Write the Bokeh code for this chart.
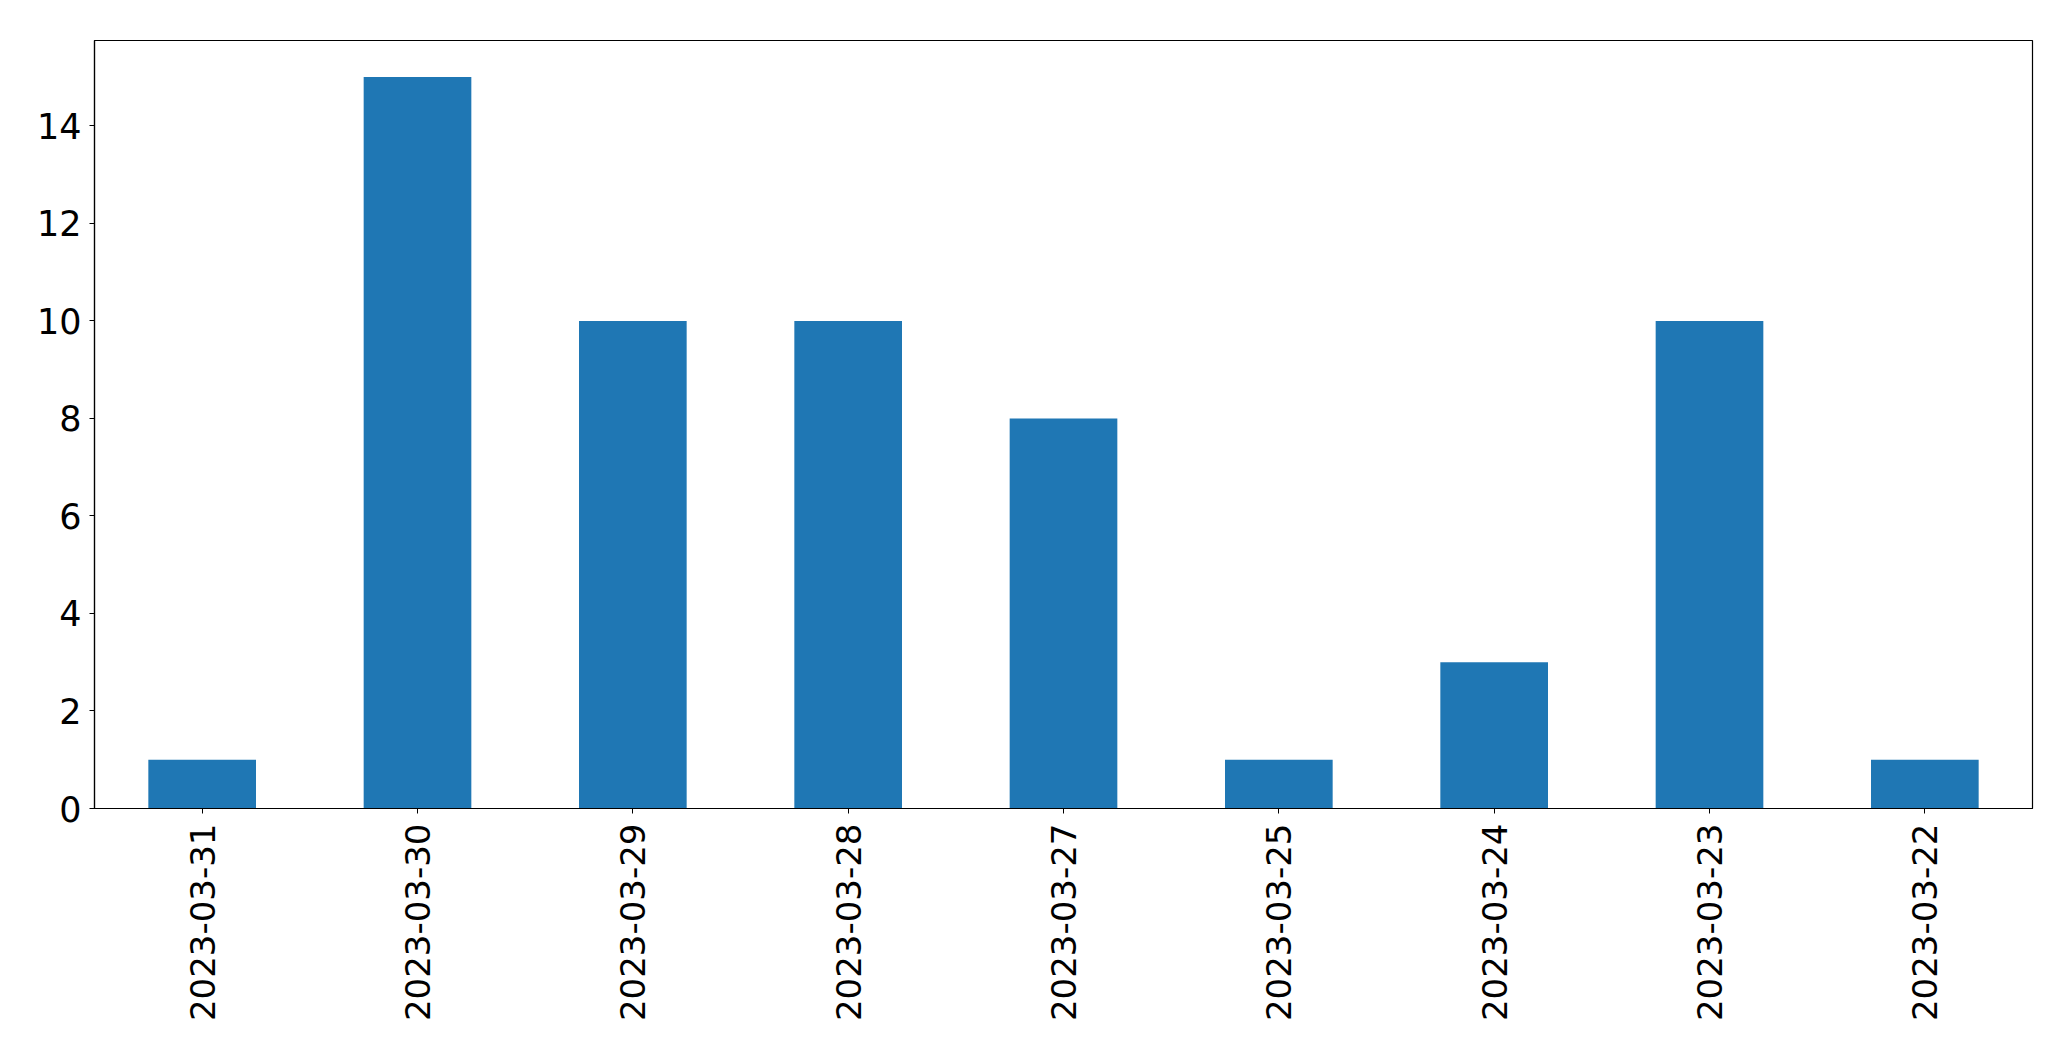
from bokeh.plotting import figure
from bokeh.models import FactorRange, Range1d, SingleIntervalTicker, ColumnDataSource
from bokeh.embed import file_html
from bokeh.resources import INLINE
import math

dates = ["2023-03-31", "2023-03-30", "2023-03-29", "2023-03-28", "2023-03-27",
         "2023-03-25", "2023-03-24", "2023-03-23", "2023-03-22"]
counts = [1, 15, 10, 10, 8, 1, 3, 10, 1]

src = ColumnDataSource(dict(x=dates, top=counts))

p = figure(width=2048, height=1048, output_backend="svg", toolbar_location=None,
           x_range=FactorRange(*dates, range_padding=0), y_range=Range1d(0, 15.75),
           min_border_left=94, min_border_top=40, min_border_right=16, min_border_bottom=240)
p.vbar(x="x", top="top", width=0.5, bottom=0, source=src, color="#1f77b4", line_color=None)

p.xgrid.visible = False
p.ygrid.visible = False
p.outline_line_color = "black"
p.outline_line_width = 1.2
p.outline_line_alpha = 1

for ax in (p.xaxis[0], p.yaxis[0]):
    ax.axis_line_color = "black"
    ax.axis_line_width = 1.2
    ax.major_tick_line_color = "black"
    ax.major_tick_out = 5
    ax.major_tick_in = 0
    ax.minor_tick_line_color = None
    ax.major_label_text_font = "DejaVu Sans"
    ax.major_label_text_color = "black"

p.yaxis[0].major_label_text_font_size = "35px"
p.xaxis[0].major_label_text_font_size = "34px"
p.yaxis[0].ticker = SingleIntervalTicker(interval=2)
p.yaxis[0].major_label_standoff = 8
p.xaxis[0].major_label_orientation = math.pi / 2
p.xaxis[0].major_label_standoff = 10

open("out.html", "w").write(file_html(p, INLINE))
